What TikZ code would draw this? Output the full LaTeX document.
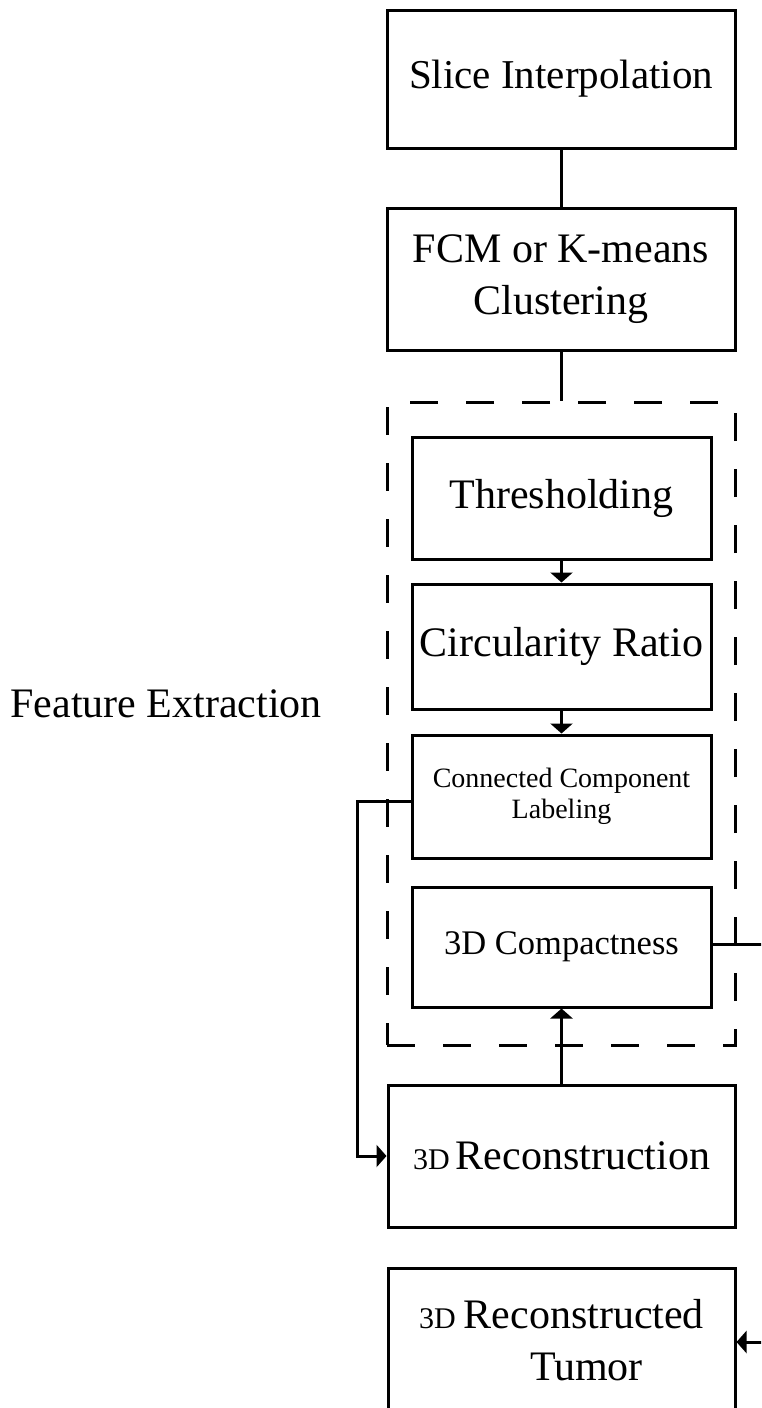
\documentclass[tikz,border=0pt]{standalone}
\usepackage{fontspec}
\setmainfont{Liberation Serif}
\usetikzlibrary{arrows.meta}

\newcommand{\bigtext}{\fontsize{42pt}{52pt}\selectfont}
\newcommand{\smalltext}{\fontsize{28pt}{31pt}\selectfont}
\newcommand{\prefixtext}{\fontsize{30pt}{36pt}\selectfont}

\tikzset{
  stage/.style={draw, line width=3pt, minimum width=348pt, inner sep=0pt, align=center, font=\bigtext},
  substage/.style={draw, line width=3pt, minimum width=299pt, inner sep=0pt, align=center, font=\bigtext},
  link/.style={line width=3pt},
  flow/.style={line width=3pt, -{Triangle[width=22pt,length=10pt]}},
  groupbox/.style={draw, line width=3pt, dash pattern=on 28pt off 28pt, inner sep=0pt},
}

\begin{document}
\begin{tikzpicture}[x=1pt,y=-1pt]
  \clip (0,0) rectangle (761,1408);
  \fill[white] (0,0) rectangle (761,1408);

  % main pipeline
  \node[stage, minimum height=138pt, font=\fontsize{41pt}{50pt}\selectfont] (slice) at (561,79)
    {Slice Interpolation};
  \node[stage, minimum height=142pt] (fcm) at (561,279)
    {FCM or K-means\\ Clustering};

  % feature extraction group
  \node[groupbox, minimum width=348pt, minimum height=643pt] (fe) at (561,723.5) {};
  \node[substage, minimum height=122pt] (thresh) at (561.5,498)
    {Thresholding};
  \node[substage, minimum height=125pt] (circ) at (561.5,646.5)
    {Circularity Ratio};
  \node[substage, minimum height=123pt, font=\smalltext] (ccl) at (561.5,796.5)
    {Connected Component\\ Labeling};
  \node[substage, minimum height=120pt, font=\fontsize{34.5pt}{40pt}\selectfont] (compact) at (561.5,947)
    {3D Compactness};

  \node[stage, minimum width=347pt, minimum height=142pt] (recon) at (561.5,1156)
    {{\prefixtext 3D}\hspace{6pt}Reconstruction};
  \node[stage, minimum width=347pt, minimum height=144pt] (tumor) at (561.5,1340)
    {{\prefixtext 3D}\hspace{8pt}Reconstructed\\ \hspace*{50pt}Tumor};

  \node[anchor=base east, inner sep=0pt, font=\bigtext] (felabel) at (322,717)
    {Feature Extraction};

  % connectors
  \draw[link] (slice.south) -- (fcm.north);
  \draw[link] (fcm.south) -- (fe.north -| fcm.south);
  \draw[flow] (thresh.south) -- (circ.north);
  \draw[flow] (circ.south) -- (ccl.north);
  \draw[flow] (recon.north) -- (compact.south);

  \coordinate (loopx) at (357,801);
  \draw[flow] (ccl.west |- loopx) -- (loopx) |- (recon.west);

  \coordinate (outR) at (775,944);
  \draw[link] (compact.east |- outR) -- (outR);
  \coordinate (inR) at (775,1342);
  \draw[flow] (inR) -- (tumor.east |- inR);
\end{tikzpicture}
\end{document}
